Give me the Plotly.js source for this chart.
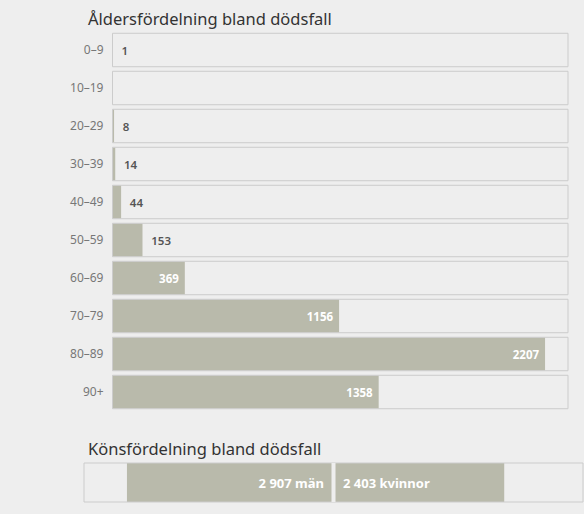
<!DOCTYPE html>
<html>
<head>
<meta charset="utf-8">
<script src="https://cdn.plot.ly/plotly-3.0.1.min.js"></script>
<style>
html,body{margin:0;padding:0;background:#eeeeee;}
#chart{width:584px;height:514px;}
</style>
</head>
<body>
<div id="chart"></div>
<script>
// ---- data ----
const ageGroups = ['0–9','10–19','20–29','30–39','40–49','50–59','60–69','70–79','80–89','90+'];
const ageDeaths = [1, 0, 8, 14, 44, 153, 369, 1156, 2207, 1358];
const sexLabels = ['män', 'kvinnor'];
const sexDeaths = [2907, 2403];
const titleAge = 'Åldersfördelning bland dödsfall';
const titleSex = 'Könsfördelning bland dödsfall';

// ---- layout helpers ----
const W = 584, H = 514;
const BG = '#eeeeee', BAR = '#b9baab', BOX = '#cccccc';
const FONT = 'Noto Sans, sans-serif';
const fmt = n => String(n).replace(/\B(?=(\d{3})+(?!\d))/g, ' ');
const px = v => v / W;
const py = v => 1 - v / H;
const EN = '\u2002', NB = '\u00a0';
const isInside = v => v >= 300;

const ageTrace = {
  type: 'bar', orientation: 'h',
  y: ageGroups, x: ageDeaths,
  xaxis: 'x', yaxis: 'y',
  width: 0.87,
  marker: {color: BAR},
  text: ageDeaths.map(v => v > 0 ? (isInside(v) ? String(v) + NB : EN + String(v)) : ''),
  textposition: ageDeaths.map(v => isInside(v) ? 'inside' : 'outside'),
  insidetextanchor: 'end',
  insidetextfont: {family: FONT, size: 11.5, color: '#ffffff', weight: 'bold'},
  outsidetextfont: {family: FONT, size: 11.5, color: '#555555', weight: 600},
  cliponaxis: false,
  hoverinfo: 'skip'
};

const menTrace = {
  type: 'bar', orientation: 'h',
  y: ['all'], x: [sexDeaths[0]], base: [-sexDeaths[0]],
  xaxis: 'x2', yaxis: 'y2', width: 1,
  marker: {color: BAR},
  text: [fmt(sexDeaths[0]) + ' ' + sexLabels[0] + EN],
  textposition: 'inside', insidetextanchor: 'end',
  insidetextfont: {family: FONT, size: 13, color: '#ffffff', weight: 'bold'},
  hoverinfo: 'skip'
};
const womenTrace = {
  type: 'bar', orientation: 'h',
  y: ['all'], x: [sexDeaths[1]], base: [0],
  xaxis: 'x2', yaxis: 'y2', width: 1,
  marker: {color: BAR},
  text: [EN + fmt(sexDeaths[1]) + ' ' + sexLabels[1]],
  textposition: 'inside', insidetextanchor: 'start',
  insidetextfont: {family: FONT, size: 13, color: '#ffffff', weight: 'bold'},
  hoverinfo: 'skip'
};

const shapes = ageGroups.map((g, i) => ({
  type: 'rect', xref: 'x domain', yref: 'y',
  x0: 0, x1: 1, y0: i - 0.44, y1: i + 0.44,
  line: {color: BOX, width: 1}, fillcolor: 'rgba(0,0,0,0)', layer: 'above'
}));
shapes.push({
  type: 'rect', xref: 'x2 domain', yref: 'y2 domain',
  x0: 0, x1: 1, y0: 0, y1: 1,
  line: {color: BOX, width: 1}, fillcolor: 'rgba(0,0,0,0)', layer: 'above'
});
shapes.push({
  type: 'line', xref: 'x2', yref: 'y2 domain',
  x0: 0, x1: 0, y0: 0, y1: 1,
  line: {color: BG, width: 4}, layer: 'above'
});

const maxAge = Math.max(...ageDeaths);
const maxSex = Math.max(...sexDeaths);

const layout = {
  width: W, height: H,
  margin: {l: 0, r: 0, t: 0, b: 0},
  paper_bgcolor: BG, plot_bgcolor: 'rgba(0,0,0,0)',
  barmode: 'overlay',
  showlegend: false,
  font: {family: FONT},
  xaxis: {domain: [px(112.5), px(568)], range: [0, maxAge * 1.053], visible: false, fixedrange: true},
  yaxis: {domain: [py(411), py(31)], type: 'category', autorange: 'reversed',
          showgrid: false, zeroline: false, showline: false, ticks: '',
          ticklabelstandoff: 8,
          tickfont: {family: FONT, size: 12, color: '#777777'}, fixedrange: true},
  xaxis2: {domain: [px(84), px(583)], range: [-maxSex * 1.208, maxSex * 1.208], visible: false, anchor: 'y2', fixedrange: true},
  yaxis2: {domain: [py(502), py(463)], anchor: 'x2', range: [-0.5, 0.5], type: 'category',
           visible: false, fixedrange: true},
  shapes: shapes,
  annotations: [
    {text: titleAge, xref: 'paper', yref: 'paper', x: px(86), y: py(19),
     xanchor: 'left', yanchor: 'middle', showarrow: false,
     font: {family: FONT, size: 16.5, color: '#333333'}},
    {text: titleSex, xref: 'paper', yref: 'paper', x: px(86), y: py(448),
     xanchor: 'left', yanchor: 'middle', showarrow: false,
     font: {family: FONT, size: 16.5, color: '#333333'}}
  ]
};

Plotly.newPlot('chart', [ageTrace, menTrace, womenTrace], layout, {displayModeBar: false, staticPlot: true});
</script>
</body>
</html>
